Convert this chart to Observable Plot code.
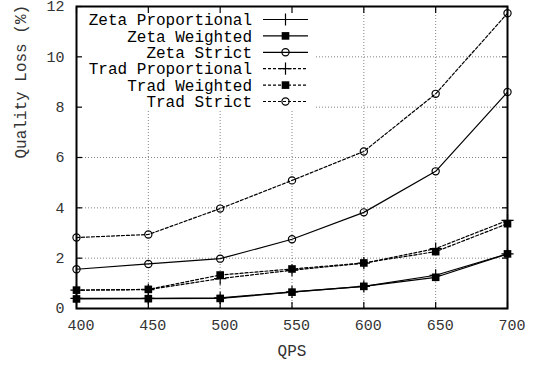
<!DOCTYPE html>
<html>
<head>
<meta charset="utf-8">
<script src="https://cdn.jsdelivr.net/npm/d3@7"></script>
<script src="https://cdn.jsdelivr.net/npm/@observablehq/plot@0.6"></script>
<style>
  body { margin: 0; background: white; }
  #chart { width: 535px; height: 365px; }
</style>
</head>
<body>
<div id="chart"></div>
<script>
const qps = [400, 450, 500, 550, 600, 650, 700];
const zetaProportional = [0.40, 0.40, 0.42, 0.66, 0.88, 1.32, 2.17];
const zetaWeighted     = [0.38, 0.39, 0.40, 0.65, 0.88, 1.24, 2.17];
const zetaStrict       = [1.56, 1.77, 1.98, 2.75, 3.82, 5.45, 8.60];
const tradProportional = [0.73, 0.75, 1.19, 1.52, 1.80, 2.38, 3.50];
const tradWeighted     = [0.73, 0.76, 1.33, 1.57, 1.81, 2.26, 3.37];
const tradStrict       = [2.82, 2.94, 3.97, 5.09, 6.24, 8.53, 11.73];

const seriesNames = ["Zeta Proportional", "Zeta Weighted", "Zeta Strict", "Trad Proportional", "Trad Weighted", "Trad Strict"];
const seriesValues = [zetaProportional, zetaWeighted, zetaStrict, tradProportional, tradWeighted, tradStrict];
const seriesSymbols = ["plus", "square", "circle", "plus", "square", "circle"];
const seriesDashed = [false, false, false, true, true, true];

const xTicks = [400, 450, 500, 550, 600, 650, 700];
const yTicks = [0, 2, 4, 6, 8, 10, 12];
const xLabel = "QPS";
const yLabel = "Quality Loss (%)";

const DASH = "3,2";
const symSize = {plus: 4, square: 4.3, circle: 3.6};

const rows = [];
seriesNames.forEach((name, i) => {
  qps.forEach((q, j) => rows.push({series: name, qps: q, loss: seriesValues[i][j], idx: i}));
});

const font = "Liberation Mono, Courier New, monospace";

function legendMark() {
  const g = d3.create("svg:g");
  g.append("rect").attr("x", 79).attr("y", 7).attr("width", 237).attr("height", 103).attr("fill", "white");
  const d3sym = {plus: d3.symbolPlus, square: d3.symbolSquare, circle: d3.symbolCircle};
  seriesNames.forEach((name, i) => {
    const yy = 19.5 + i * 16.4;
    g.append("text").attr("x", 252).attr("y", yy).attr("dy", "0.35em")
      .attr("text-anchor", "end").attr("font-family", font).attr("font-size", 16)
      .attr("fill", "black").text(name);
    g.append("line").attr("x1", 263).attr("x2", 308).attr("y1", yy).attr("y2", yy)
      .attr("stroke", "black").attr("stroke-width", 1.2)
      .attr("stroke-dasharray", seriesDashed[i] ? DASH : null);
    const s = seriesSymbols[i];
    const r = symSize[s];
    g.append("path").attr("transform", `translate(285.5,${yy})`)
      .attr("d", d3.symbol(d3sym[s], Math.PI * r * r)())
      .attr("fill", s === "square" ? "black" : "none")
      .attr("stroke", "black").attr("stroke-width", s === "square" ? 0 : 1.2);
  });
  return g.node();
}

const marks = [
  Plot.gridX(xTicks, {stroke: "#666", strokeOpacity: 1, strokeWidth: 0.8, strokeDasharray: "1,2"}),
  Plot.gridY(yTicks, {stroke: "#666", strokeOpacity: 1, strokeWidth: 0.8, strokeDasharray: "1,2"}),
  legendMark,
  Plot.axisX(xTicks, {anchor: "bottom", tickSize: -6, tickFormat: () => "", label: null, strokeWidth: 1.2}),
  Plot.axisX(xTicks, {anchor: "top", tickSize: -6, tickFormat: () => "", label: null, strokeWidth: 1.2}),
  Plot.axisY(yTicks, {anchor: "left", tickSize: -6, tickFormat: () => "", label: null, strokeWidth: 1.2}),
  Plot.axisY(yTicks, {anchor: "right", tickSize: -6, tickFormat: () => "", label: null, strokeWidth: 1.2}),
  Plot.axisX(xTicks, {anchor: "bottom", tickSize: 0, tickPadding: 11, dx: 4.5, label: null, fontSize: 15, fill: "#333"}),
  Plot.axisY(yTicks, {anchor: "left", tickSize: 0, tickPadding: 12, label: null, fontSize: 15, fill: "#333"}),
];

seriesNames.forEach((name, i) => {
  const data = rows.filter(d => d.idx === i);
  marks.push(Plot.line(data, {x: "qps", y: "loss", stroke: "black", strokeWidth: 1.2,
    strokeDasharray: seriesDashed[i] ? DASH : null}));
  const s = seriesSymbols[i];
  marks.push(Plot.dot(data, {x: "qps", y: "loss", symbol: () => s, r: symSize[s],
    fill: s === "square" ? "black" : "none", stroke: "black",
    strokeWidth: s === "square" ? 0 : 1.2}));
});

marks.push(Plot.frame({stroke: "black", strokeWidth: 2}));
marks.push(Plot.text([xLabel], {text: d => d, frameAnchor: "bottom", dy: 47, fontSize: 16, fill: "#333"}));
marks.push(Plot.text([yLabel], {text: d => d, frameAnchor: "left", dx: -56, dy: 1, rotate: -90, fontSize: 16, fill: "#333"}));

const chart = Plot.plot({
  width: 535,
  height: 365,
  marginLeft: 76,
  marginRight: 28,
  marginTop: 6,
  marginBottom: 57,
  x: {domain: [400, 700]},
  y: {domain: [0, 12]},
  symbol: {type: "identity"},
  style: {fontFamily: font, fontSize: "15px", color: "black", background: "white", overflow: "visible"},
  marks
});
document.getElementById("chart").appendChild(chart);
</script>
</body>
</html>
